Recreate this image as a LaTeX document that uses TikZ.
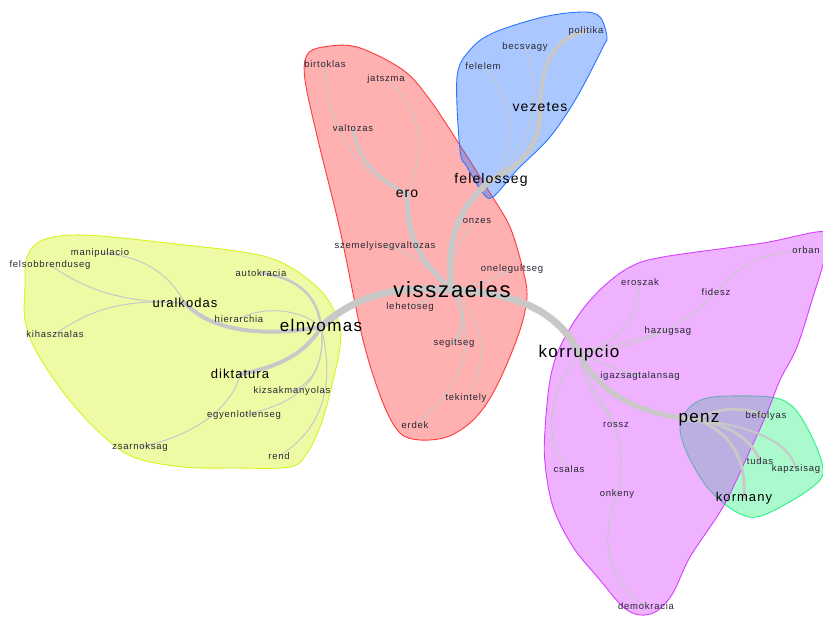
\documentclass[tikz,border=0pt]{standalone}
\usepackage{fontspec}
\setmainfont{Liberation Sans}
\newfontfamily\netfont[LetterSpace=8]{Liberation Sans}
\definecolor{edgegray}{RGB}{200,200,200}
\definecolor{wordgray}{RGB}{40,40,52}
\definecolor{hullyellow}{RGB}{215,242,30}
\definecolor{hullred}{RGB}{255,57,57}
\definecolor{hullblue}{RGB}{42,117,255}
\definecolor{hullgreen}{RGB}{42,242,130}
\definecolor{hullpurple}{RGB}{212,62,255}
\pgfdeclarelayer{background}
\pgfsetlayers{background,main}

\begin{document}
\begin{tikzpicture}[x=1pt, y=-1pt,
  word/.style={inner sep=0pt, text=wordgray, font=\netfont\fontsize{9.5}{11}\selectfont},
  hub/.style={inner sep=0pt, text=black, font=\netfont\fontsize{#1}{#1}\selectfont},
  tie/.style={draw=edgegray, line width=#1, line cap=round},
  hull/.style={draw=#1, fill=#1, fill opacity=0.4, line width=0.9pt}]
\useasboundingbox (0,0) rectangle (823,617);

\node[hub=22] (visszaeles) at (452,290) {visszaeles};
\node[hub=17] (elnyomas) at (321,327) {elnyomas};
\node[hub=13] (uralkodas) at (185,303) {uralkodas};
\node[hub=13] (diktatura) at (240,374) {diktatura};
\node[word] (manipulacio) at (100,253) {manipulacio};
\node[word] (felsobbrenduseg) at (50,265) {felsobbrenduseg};
\node[word] (kihasznalas) at (55,334) {kihasznalas};
\node[word] (autokracia) at (261,273) {autokracia};
\node[word] (hierarchia) at (239,319) {hierarchia};
\node[word] (kizsakmanyolas) at (292,391) {kizsakmanyolas};
\node[word] (egyenlotlenseg) at (244,415) {egyenlotlenseg};
\node[word] (zsarnoksag) at (140,447) {zsarnoksag};
\node[word] (rend) at (279,456) {rend};

\node[hub=14] (ero) at (407,194) {ero};
\node[word] (birtoklas) at (325,64) {birtoklas};
\node[word] (jatszma) at (386,79) {jatszma};
\node[word] (valtozas) at (353,128) {valtozas};
\node[word] (onzes) at (477,221) {onzes};
\node[word] (szemelyisegvaltozas) at (385,246) {szemelyisegvaltozas};
\node[word] (onelegultseg) at (512,269) {onelegultseg};
\node[word] (lehetoseg) at (410,307) {lehetoseg};
\node[word] (segitseg) at (454,343) {segitseg};
\node[word] (tekintely) at (466,398) {tekintely};
\node[word] (erdek) at (415,425) {erdek};

\node[hub=14] (felelosseg) at (491,180) {felelosseg};
\node[hub=14] (vezetes) at (540,107) {vezetes};
\node[word] (politika) at (586,31) {politika};
\node[word] (becsvagy) at (525,47) {becsvagy};
\node[word] (felelem) at (483,66) {felelem};

\node[hub=17] (korrupcio) at (579,353) {korrupcio};
\node[word] (eroszak) at (640,282) {eroszak};
\node[word] (fidesz) at (716,292) {fidesz};
\node[word] (orban) at (806,250) {orban};
\node[word] (hazugsag) at (668,331) {hazugsag};
\node[word] (igazsagtalansag) at (640,376) {igazsagtalansag};
\node[word] (rossz) at (616,425) {rossz};
\node[word] (csalas) at (569,469) {csalas};
\node[word] (onkeny) at (617,494) {onkeny};
\node[word] (demokracia) at (646,606) {demokracia};

\node[hub=17] (penz) at (699,420) {penz};
\node[word] (befolyas) at (766,416) {befolyas};
\node[word] (tudas) at (760,461) {tudas};
\node[word] (kapzsisag) at (796,469) {kapzsisag};
\node[hub=13] (kormany) at (744,498) {kormany};

\begin{pgfonlayer}{background}
\draw[hull=hullyellow] plot[smooth cycle, tension=0.55] coordinates {(27,257) (43,240) (83,235) (167,243) (267,257) (317,287) (338,320) (340,347) (330,393) (320,427) (307,453) (290,467) (233,468) (183,467) (133,457) (100,433) (67,397) (37,353) (25,320) (25,287)};
\draw[hull=hullred] plot[smooth cycle, tension=0.55] coordinates {(307,55) (323,47) (357,47) (403,70) (430,100) (463,150) (490,193) (510,227) (523,270) (527,297) (520,330) (503,373) (487,403) (470,423) (447,437) (420,440) (400,433) (383,403) (363,340) (340,230) (318,140) (305,80)};
\draw[hull=hullblue] plot[smooth cycle, tension=0.55] coordinates {(460,150) (457,77) (470,50) (493,33) (543,17) (583,12) (600,17) (607,37) (603,47) (577,97) (550,137) (517,170) (493,197) (483,193) (467,167)};
\draw[hull=hullgreen] plot[smooth cycle, tension=0.55] coordinates {(680,427) (690,407) (713,397) (770,397) (793,407) (810,433) (822,463) (820,480) (793,500) (757,517) (733,510) (707,487) (687,453)};
\draw[hull=hullpurple] plot[smooth cycle, tension=0.55] coordinates {(826,232) (763,243) (663,257) (630,267) (603,287) (580,313) (560,347) (550,380) (545,430) (545,463) (553,507) (573,547) (600,580) (623,607) (640,615) (657,611) (673,593) (690,557) (723,507) (747,457) (767,413) (780,380) (797,347) (813,297) (824,260)};

\draw[tie=1pt] (manipulacio.center) .. controls (150,256) and (172,280) .. (uralkodas.center);
\draw[tie=1pt] (felsobbrenduseg.center) .. controls (80,285) and (110,302) .. (uralkodas.center);
\draw[tie=1pt] (kihasznalas.center) .. controls (88,312) and (118,298) .. (uralkodas.center);
\draw[tie=1pt] (diktatura.center) .. controls (232,410) and (190,437) .. (zsarnoksag.center);
\draw[tie=1pt] (elnyomas.center) .. controls (300,308) and (262,306) .. (hierarchia.center);
\draw[tie=1pt] (elnyomas.center) .. controls (326,360) and (312,385) .. (kizsakmanyolas.center);
\draw[tie=1pt] (elnyomas.center) .. controls (328,385) and (290,405) .. (egyenlotlenseg.center);
\draw[tie=1pt] (elnyomas.center) .. controls (336,385) and (322,430) .. (rend.center);
\draw[tie=2.5pt] (autokracia.center) .. controls (300,278) and (318,298) .. (elnyomas.center);
\draw[tie=4pt] (elnyomas.center) .. controls (265,337) and (212,332) .. (uralkodas.center);
\draw[tie=4pt] (elnyomas.center) .. controls (305,355) and (275,368) .. (diktatura.center);

\draw[tie=1pt] (birtoklas.center) .. controls (325,130) and (360,176) .. (ero.center);
\draw[tie=1pt] (jatszma.center) .. controls (430,118) and (422,160) .. (ero.center);
\draw[tie=3pt] (valtozas.center) .. controls (358,165) and (385,182) .. (ero.center);
\draw[tie=1pt] (szemelyisegvaltozas.center) .. controls (415,252) and (432,272) .. (visszaeles.center);
\draw[tie=1pt] (onzes.center) .. controls (458,240) and (448,265) .. (visszaeles.center);
\draw[tie=1pt] (onelegultseg.center) .. controls (495,278) and (470,288) .. (visszaeles.center);
\draw[tie=1pt] (visszaeles.center) .. controls (435,298) and (420,303) .. (lehetoseg.center);
\draw[tie=1pt] (visszaeles.center) .. controls (485,315) and (490,365) .. (tekintely.center);
\draw[tie=1pt] (visszaeles.center) .. controls (480,335) and (465,385) .. (erdek.center);
\draw[tie=3pt] (visszaeles.center) .. controls (462,305) and (468,325) .. (segitseg.center);
\draw[tie=5pt] (visszaeles.center) .. controls (425,265) and (407,245) .. (ero.center);

\draw[tie=1pt] (becsvagy.center) .. controls (545,100) and (530,150) .. (felelosseg.center);
\draw[tie=1pt] (felelem.center) .. controls (515,100) and (520,150) .. (felelosseg.center);
\draw[tie=4pt] (vezetes.center) .. controls (541,60) and (556,38) .. (politika.center);
\draw[tie=5pt] (felelosseg.center) .. controls (522,165) and (541,145) .. (vezetes.center);
\draw[tie=6pt] (visszaeles.center) .. controls (447,250) and (452,212) .. (felelosseg.center);

\draw[tie=1pt] (eroszak.center) .. controls (636,330) and (610,346) .. (korrupcio.center);
\draw[tie=1pt] (korrupcio.center) .. controls (640,350) and (690,322) .. (fidesz.center);
\draw[tie=1pt] (fidesz.center) .. controls (740,262) and (770,252) .. (orban.center);
\draw[tie=1pt] (korrupcio.center) .. controls (620,345) and (645,336) .. (hazugsag.center);
\draw[tie=1pt] (korrupcio.center) .. controls (600,362) and (620,372) .. (igazsagtalansag.center);
\draw[tie=1pt] (korrupcio.center) .. controls (585,390) and (605,410) .. (rossz.center);
\draw[tie=1pt] (korrupcio.center) .. controls (550,390) and (540,440) .. (csalas.center);
\draw[tie=1pt] (korrupcio.center) .. controls (590,400) and (635,420) .. (onkeny.center);
\draw[tie=1pt] (onkeny.center) .. controls (600,540) and (605,580) .. (demokracia.center);
\draw[tie=7pt] (visszaeles.center) .. controls (505,292) and (555,305) .. (korrupcio.center);
\draw[tie=5pt] (korrupcio.center) .. controls (600,395) and (640,415) .. (penz.center);
\draw[tie=7pt] (elnyomas.center) .. controls (350,300) and (390,284) .. (visszaeles.center);

\draw[tie=3pt] (penz.center) .. controls (715,408) and (740,405) .. (befolyas.center);
\draw[tie=3pt] (penz.center) .. controls (730,425) and (752,440) .. (tudas.center);
\draw[tie=2pt] (penz.center) .. controls (745,425) and (790,440) .. (kapzsisag.center);
\draw[tie=3pt] (penz.center) .. controls (732,435) and (746,458) .. (kormany.center);
\end{pgfonlayer}
\end{tikzpicture}
\end{document}
